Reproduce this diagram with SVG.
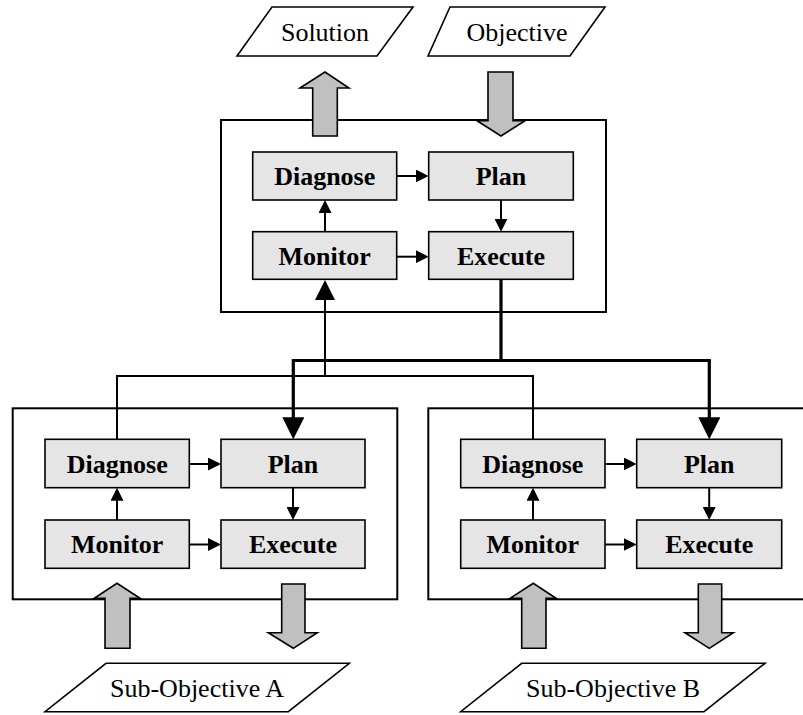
<svg xmlns="http://www.w3.org/2000/svg" width="803" height="715" viewBox="0 0 803 715">
<defs>
<marker id="ah" markerUnits="userSpaceOnUse" viewBox="0 0 13 13" markerWidth="13" markerHeight="13" refX="7" refY="6.5" orient="auto"><path d="M0,0 L13,6.5 L0,13 Z" fill="#000"/></marker>
<marker id="ahm" markerUnits="userSpaceOnUse" viewBox="0 0 20 20" markerWidth="20" markerHeight="20" refX="10" refY="10" orient="auto"><path d="M0,0 L20,10 L0,20 Z" fill="#000"/></marker>
<marker id="ahb" markerUnits="userSpaceOnUse" viewBox="0 0 22 22" markerWidth="22" markerHeight="22" refX="12" refY="11" orient="auto"><path d="M0,0 L22,11 L0,22 Z" fill="#000"/></marker>
</defs>
<g fill="none" stroke="#000" stroke-width="2">
<g id="top-system"><rect x="221" y="120" width="385" height="192"/></g>
<g id="system-a"><rect x="12.7" y="408.3" width="384.6" height="191"/></g>
<g id="system-b"><rect x="428.3" y="408.3" width="390" height="191"/></g>
</g>
<g fill="#fff" stroke="#000" stroke-width="1.6">
<g id="solution"><polygon points="272,7 413,7 377,56 237,56"/><text x="325" y="41" style="font-family:'Times New Roman',Times,'Liberation Serif',serif;font-size:26px;text-anchor:middle;fill:#000;stroke:none">Solution</text></g>
<g id="objective"><polygon points="450,7 605,7 570,56 428,56"/><text x="517" y="41" style="font-family:'Times New Roman',Times,'Liberation Serif',serif;font-size:26px;text-anchor:middle;fill:#000;stroke:none">Objective</text></g>
<g id="sub-objective-a"><polygon points="106,663.3 349.3,663.3 288.3,711.7 45,711.7"/><text x="197" y="697" style="font-family:'Times New Roman',Times,'Liberation Serif',serif;font-size:26px;text-anchor:middle;fill:#000;stroke:none">Sub-Objective A</text></g>
<g id="sub-objective-b"><polygon points="521.7,663.3 765,663.3 704,711.7 460.7,711.7"/><text x="613" y="697" style="font-family:'Times New Roman',Times,'Liberation Serif',serif;font-size:26px;text-anchor:middle;fill:#000;stroke:none">Sub-Objective B</text></g>
</g>
<g fill="#e5e5e5" stroke="#000" stroke-width="1.6">
<g id="top-diagnose"><rect x="252.7" y="152" width="144" height="48"/><text x="324.7" y="185" style="font-family:'Times New Roman',Times,'Liberation Serif',serif;font-weight:bold;font-size:26px;text-anchor:middle;fill:#000;stroke:none">Diagnose</text></g>
<g id="top-plan"><rect x="428.7" y="152" width="144.6" height="48"/><text x="501" y="185" style="font-family:'Times New Roman',Times,'Liberation Serif',serif;font-weight:bold;font-size:26px;text-anchor:middle;fill:#000;stroke:none">Plan</text></g>
<g id="top-monitor"><rect x="252.7" y="231.7" width="144" height="47.6"/><text x="324.7" y="265" style="font-family:'Times New Roman',Times,'Liberation Serif',serif;font-weight:bold;font-size:26px;text-anchor:middle;fill:#000;stroke:none">Monitor</text></g>
<g id="top-execute"><rect x="428.7" y="231.7" width="144.6" height="47.6"/><text x="501" y="265" style="font-family:'Times New Roman',Times,'Liberation Serif',serif;font-weight:bold;font-size:26px;text-anchor:middle;fill:#000;stroke:none">Execute</text></g>
<g id="a-diagnose"><rect x="45" y="439.3" width="144.3" height="48.4"/><text x="117.2" y="472.5" style="font-family:'Times New Roman',Times,'Liberation Serif',serif;font-weight:bold;font-size:26px;text-anchor:middle;fill:#000;stroke:none">Diagnose</text></g>
<g id="a-plan"><rect x="221" y="439.3" width="144" height="48.4"/><text x="293" y="472.5" style="font-family:'Times New Roman',Times,'Liberation Serif',serif;font-weight:bold;font-size:26px;text-anchor:middle;fill:#000;stroke:none">Plan</text></g>
<g id="a-monitor"><rect x="45" y="520" width="144.3" height="48.3"/><text x="117.2" y="553" style="font-family:'Times New Roman',Times,'Liberation Serif',serif;font-weight:bold;font-size:26px;text-anchor:middle;fill:#000;stroke:none">Monitor</text></g>
<g id="a-execute"><rect x="221" y="520" width="144" height="48.3"/><text x="293" y="553" style="font-family:'Times New Roman',Times,'Liberation Serif',serif;font-weight:bold;font-size:26px;text-anchor:middle;fill:#000;stroke:none">Execute</text></g>
<g id="b-diagnose"><rect x="460.7" y="439.3" width="144.3" height="48.4"/><text x="532.8" y="472.5" style="font-family:'Times New Roman',Times,'Liberation Serif',serif;font-weight:bold;font-size:26px;text-anchor:middle;fill:#000;stroke:none">Diagnose</text></g>
<g id="b-plan"><rect x="636.7" y="439.3" width="145" height="48.4"/><text x="709.2" y="472.5" style="font-family:'Times New Roman',Times,'Liberation Serif',serif;font-weight:bold;font-size:26px;text-anchor:middle;fill:#000;stroke:none">Plan</text></g>
<g id="b-monitor"><rect x="460.7" y="520" width="144.3" height="48.3"/><text x="532.8" y="553" style="font-family:'Times New Roman',Times,'Liberation Serif',serif;font-weight:bold;font-size:26px;text-anchor:middle;fill:#000;stroke:none">Monitor</text></g>
<g id="b-execute"><rect x="636.7" y="520" width="145" height="48.3"/><text x="709.2" y="553" style="font-family:'Times New Roman',Times,'Liberation Serif',serif;font-weight:bold;font-size:26px;text-anchor:middle;fill:#000;stroke:none">Execute</text></g>
</g>
<g id="connectors">
<g fill="none" stroke="#000" stroke-width="2">
<path d="M396.7,176 H422.7" marker-end="url(#ah)"/>
<path d="M501,200 V225.7" marker-end="url(#ah)"/>
<path d="M325,231.7 V206" marker-end="url(#ah)"/>
<path d="M396.7,256.7 H422.7" marker-end="url(#ah)"/>
<path d="M189.3,464 H215" marker-end="url(#ah)"/>
<path d="M293,487.7 V514" marker-end="url(#ah)"/>
<path d="M117,520 V493.7" marker-end="url(#ah)"/>
<path d="M189.3,544.5 H215" marker-end="url(#ah)"/>
<path d="M605,464 H630.7" marker-end="url(#ah)"/>
<path d="M709.2,487.7 V514" marker-end="url(#ah)"/>
<path d="M533,520 V493.7" marker-end="url(#ah)"/>
<path d="M605,544.5 H630.7" marker-end="url(#ah)"/>
<path d="M117,439.3 V376 H533 V439.3"/>
<path d="M325,376 V290" marker-end="url(#ahm)"/>
</g>
<g fill="none" stroke="#000" stroke-width="3.2">
<path d="M501,279.3 V360.5 H293.3 V429.3" marker-end="url(#ahb)"/>
<path d="M501,360.5 H709.3 V429.3" marker-end="url(#ahb)"/>
</g>
<g fill="#c0c0c0" stroke="#000" stroke-width="1.6">
<path d="M312.7,136 V88 H300 L325,72 L349,88 H337.3 V136 Z"/>
<path d="M488,72 H513 V120.7 H525 L501,136 L477,120.7 H488 Z"/>
<path d="M105,648.3 V598.3 H94.3 L117,583.3 L140,598.3 H130 V648.3 Z"/>
<path d="M281.7,584 H305 V632.7 H317.3 L293.3,648.3 L268.3,632.7 H281.7 Z"/>
<path d="M521.7,648.3 V598.3 H510 L533.3,583.3 L556,598.3 H546 V648.3 Z"/>
<path d="M698.3,584 H721.7 V632.7 H733.3 L709.3,648.3 L685,632.7 H698.3 Z"/>
</g>
</g>
</svg>
